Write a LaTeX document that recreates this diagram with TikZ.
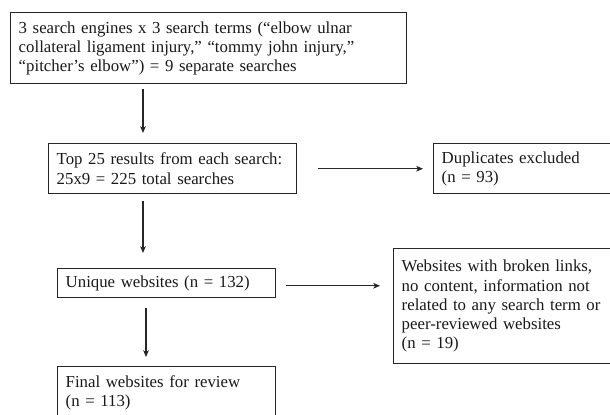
\documentclass[tikz,border=0pt]{standalone}
\usepackage{fontspec}
\setmainfont{Liberation Serif}
\usetikzlibrary{arrows.meta}
\begin{document}
\begin{tikzpicture}[x=0.75pt,y=-0.75pt,
  box/.style={draw=black!85, line width=1.1pt, inner xsep=6pt, inner ysep=0pt,
    align=left, anchor=north west, font=\fontsize{12.6}{14.4}\selectfont, text=black!90},
  arr/.style={draw=black!85, line width=0.8pt, -{Stealth[length=5pt,width=4.2pt,inset=1.2pt]}}]
\useasboundingbox (0,0) rectangle (610,414);
\clip (0,0) rectangle (610,414);
\node[box, text width=285pt, minimum height=53.25pt] (b1) at (10,12)
  {3 search engines x 3 search terms (“elbow ulnar\\collateral ligament injury,” “tommy john injury,”\\“pitcher’s elbow”) = 9 separate searches};
\node[box, text width=174pt, minimum height=37.5pt] (b2) at (48,143)
  {Top 25 results from each search:\\25x9 = 225 total searches};
\node[box, text width=130.5pt, minimum height=37.5pt] (dup) at (433,143)
  {Duplicates excluded\\(n = 93)};
\node[box, text width=151.5pt, minimum height=21.75pt] (uq) at (57,268)
  {Unique websites (n = 132)};
\node[box, text width=160.5pt, minimum height=86.25pt] (web) at (393,248)
  {Websites with broken links,\\no content, information not\\related to any search term or\\peer-reviewed websites\\(n = 19)};
\node[box, text width=151.5pt, minimum height=39pt] (fin) at (57,366)
  {Final websites for review\\(n = 113)};
\coordinate (c1) at (143,0);
\coordinate (c2) at (146,0);
\draw[arr, shorten <=3.75pt, shorten >=7.5pt] (b1.south -| c1) -- (b2.north -| c1);
\draw[arr, shorten <=5.25pt, shorten >=11.25pt] (b2.south -| c1) -- (uq.north -| c1);
\draw[arr, shorten <=7.5pt, shorten >=6.75pt] (uq.south -| c2) -- (fin.north -| c2);
\draw[arr, shorten <=15.75pt, shorten >=7.5pt] (b2.east) -- (dup.west);
\draw[arr, shorten <=7.5pt, shorten >=9.75pt] ([yshift=-1.9pt]uq.east) -- ([yshift=-1.9pt]uq.east -| web.west);
\end{tikzpicture}
\end{document}
